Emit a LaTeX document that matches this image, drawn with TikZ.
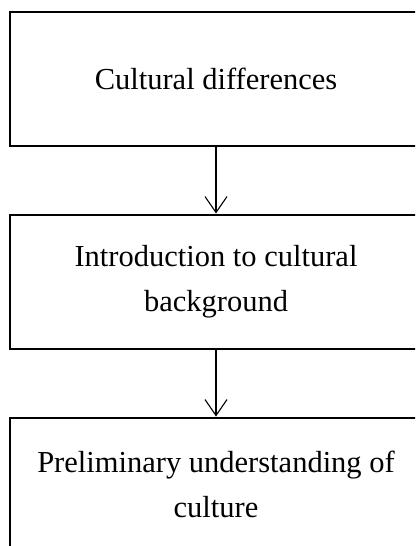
\documentclass[tikz,border=0pt]{standalone}
\usepackage{fontspec}
\setmainfont{Liberation Serif}
\usetikzlibrary{arrows.meta,positioning}

\begin{document}
\begin{tikzpicture}[x=1pt,y=1pt,
    stage/.style={draw,line width=2pt,minimum width=413pt,minimum height=134pt,
      align=center,font=\fontsize{30.5}{45}\selectfont},
    flow/.style={line width=1.1pt,-{Straight Barb[length=16pt,width=22pt]}}]
      \useasboundingbox (0,0) rectangle (415,-546);
      \clip (0,0) rectangle (415,-546);
      \node[stage] (diff) at (216,-79.3) {Cultural differences};
      \node[stage] (intro) at (216,-281.5) {Introduction to cultural\\background};
      \node[stage] (prelim) at (216,-484.5) {Preliminary understanding of\\culture};
      \draw[flow] (diff) -- (intro);
      \draw[flow] (intro) -- (prelim);
    \end{tikzpicture}
\end{document}
